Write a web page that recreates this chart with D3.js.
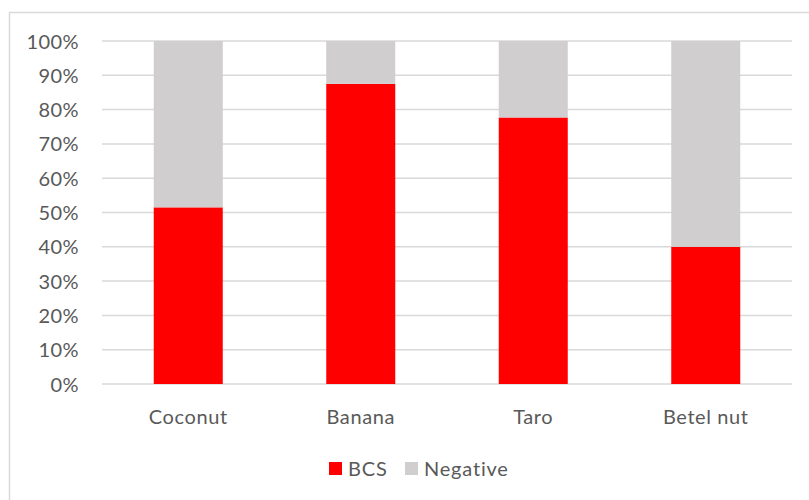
<!DOCTYPE html>
<html>
<head>
<meta charset="utf-8">
<script src="https://cdn.jsdelivr.net/npm/d3@7"></script>
<style>
  html, body { margin: 0; padding: 0; background: #fff; }
  svg { display: block; }
  text { font-family: Lato, "Liberation Sans", sans-serif; fill: #595959; }
</style>
</head>
<body>
<svg id="chart" width="809" height="500"></svg>
<script>
// Share of samples per crop (fractions of 1)
const categories = ["Coconut", "Banana", "Taro", "Betel nut"];
const bcsValues = [0.515, 0.875, 0.777, 0.40];
const negativeValues = [0.485, 0.125, 0.223, 0.60];
const seriesNames = ["BCS", "Negative"];
const seriesColors = ["#ff0000", "#d0cece"];
const tickValues = [0, 0.1, 0.2, 0.3, 0.4, 0.5, 0.6, 0.7, 0.8, 0.9, 1.0];

const FONT = 'Lato, "Liberation Sans", sans-serif';
const svg = d3.select("#chart");

// chart frame
svg.append("rect")
  .attr("x", 9.5).attr("y", 12.5)
  .attr("width", 810).attr("height", 500)
  .attr("fill", "#fff")
  .attr("stroke", "#d9d9d9").attr("stroke-width", 1.5);

const plot = { left: 102, right: 792, top: 41, bottom: 384 };

const x = d3.scaleBand()
  .domain(categories)
  .range([plot.left, plot.right])
  .padding(0);
const barW = x.bandwidth() * 0.4;

const y = d3.scaleLinear().domain([0, 1]).range([plot.bottom, plot.top]);

// gridlines
svg.append("g")
  .selectAll("line")
  .data(tickValues)
  .join("line")
  .attr("x1", plot.left).attr("x2", plot.right)
  .attr("y1", d => y(d)).attr("y2", d => y(d))
  .attr("stroke", "#d9d9d9").attr("stroke-width", 1.5);

// y axis labels
const yAxis = d3.axisLeft(y)
  .tickValues(tickValues)
  .tickFormat(d3.format(".0%"))
  .tickSize(0)
  .tickPadding(0);
const yg = svg.append("g")
  .attr("transform", `translate(${plot.left - 23},0)`)
  .call(yAxis);
yg.select(".domain").remove();
yg.selectAll("text")
  .attr("font-size", 20)
  .attr("dy", "0.35em")
  .style("font-family", FONT)
  .style("letter-spacing", "0.4px")
  .attr("fill", "#595959");

// stacked bars
const rows = categories.map((c, i) => ({ cat: c, BCS: bcsValues[i], Negative: negativeValues[i] }));
const stack = d3.stack().keys(seriesNames)(rows);
const color = d3.scaleOrdinal().domain(seriesNames).range(seriesColors);

svg.append("g")
  .selectAll("g")
  .data(stack)
  .join("g")
  .attr("fill", d => color(d.key))
  .selectAll("rect")
  .data(d => d)
  .join("rect")
  .attr("x", d => x(d.data.cat) + (x.bandwidth() - barW) / 2)
  .attr("width", barW)
  .attr("y", d => y(d[1]))
  .attr("height", d => y(d[0]) - y(d[1]));

// x axis labels
const xAxis = d3.axisBottom(x).tickSize(0).tickPadding(0);
const xg = svg.append("g")
  .attr("transform", `translate(0,${plot.bottom + 33})`)
  .call(xAxis);
xg.select(".domain").remove();
xg.selectAll("text")
  .attr("font-size", 20)
  .attr("dy", "0.35em")
  .style("font-family", FONT)
  .style("letter-spacing", "0.6px")
  .attr("fill", "#595959");

// legend
const legendItems = [
  { name: seriesNames[0], x: 329 },
  { name: seriesNames[1], x: 405 }
];
const lg = svg.append("g");
const li = lg.selectAll("g").data(legendItems).join("g")
  .attr("transform", d => `translate(${d.x},${462})`);
li.append("rect")
  .attr("width", 13).attr("height", 13)
  .attr("fill", d => color(d.name));
li.append("text")
  .attr("x", 19).attr("y", 6.5)
  .attr("dy", "0.35em")
  .attr("font-size", 20)
  .style("letter-spacing", "0.8px")
  .text(d => d.name);
</script>
</body>
</html>
